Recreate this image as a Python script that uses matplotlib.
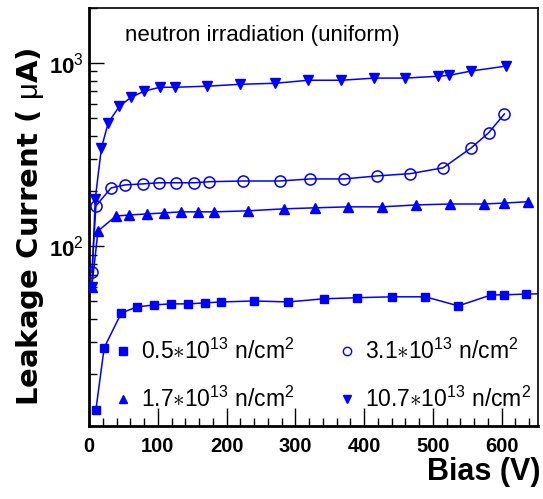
import matplotlib
matplotlib.use("Agg")
import matplotlib.pyplot as plt
from matplotlib.ticker import MultipleLocator, LogLocator, NullFormatter, FixedLocator

# ---- data ----
x_05 = [10, 22, 47, 70, 95, 119, 144, 169, 192, 240, 290, 341, 390, 440, 489, 537, 585, 603, 636, 670]
y_05 = [12.8, 27.9, 43.2, 46.6, 47.8, 48.4, 48.4, 49.0, 49.6, 50.2, 49.6, 51.6, 52.3, 52.9, 52.9, 47.2, 54.2, 54.2, 54.8, 55.0]

x_17 = [4, 13, 39, 58, 84, 109, 134, 159, 182, 231, 284, 329, 377, 426, 476, 525, 574, 604, 639]
y_17 = [60, 121, 146, 148, 150, 152, 154, 154, 154, 156, 160, 162, 164, 164, 168, 170, 170, 172, 175]

x_31 = [4, 10, 32, 52, 79, 102, 127, 153, 175, 224, 277, 322, 371, 419, 467, 515, 556, 581, 604]
y_31 = [72, 166, 208, 216, 219, 222, 222, 222, 225, 227, 227, 233, 233, 242, 249, 268, 345, 416, 528]

x_107 = [4, 9, 18, 28, 44, 61, 80, 103, 125, 172, 220, 271, 319, 367, 415, 460, 508, 524, 555, 606]
y_107 = [60, 181, 344, 473, 580, 650, 702, 738, 738, 748, 766, 776, 806, 806, 828, 828, 848, 858, 904, 963]

labels = [r"0.5$\ast$10$^{13}$ n/cm$^{2}$", r"3.1$\ast$10$^{13}$ n/cm$^{2}$",
          r"1.7$\ast$10$^{13}$ n/cm$^{2}$", r"10.7$\ast$10$^{13}$ n/cm$^{2}$"]
x_ticks = [0, 100, 200, 300, 400, 500, 600]

blue = (0, 0, 1)
sans = ["Liberation Sans", "DejaVu Sans"]
plt.rcParams['mathtext.fontset'] = 'custom'
plt.rcParams['mathtext.rm'] = 'Liberation Sans'
plt.rcParams['mathtext.it'] = 'Liberation Sans'
plt.rcParams['mathtext.bf'] = 'Liberation Sans:bold'

fig = plt.figure(figsize=(5.43, 4.99), dpi=100)
ax = fig.add_axes([0.164, 0.146, 0.827, 0.838])

ax.plot(x_05, y_05, color=blue, lw=1.1, marker='s', ms=6, mfc=blue, mec=blue, zorder=3)
ax.plot(x_17, y_17, color=blue, lw=1.1, marker='^', ms=7, mfc=blue, mec=blue, zorder=3)
ax.plot(x_31, y_31, color=blue, lw=1.1, marker='o', ms=8, mfc='none', mec=blue, mew=1.1, zorder=3)
ax.plot(x_107, y_107, color=blue, lw=1.1, marker='v', ms=7, mfc=blue, mec=blue, zorder=3)

ax.set_yscale('log')
ax.set_xlim(0, 653)
ax.set_ylim(10.4, 2000)

ax.xaxis.set_major_locator(FixedLocator(x_ticks))
ax.xaxis.set_minor_locator(MultipleLocator(20))
ax.set_xticklabels([str(t) for t in x_ticks])
ax.yaxis.set_major_locator(FixedLocator([100, 1000]))
ax.set_yticklabels([r"10$^{2}$", r"10$^{3}$"])
ax.yaxis.set_minor_locator(LogLocator(base=10, subs=range(2, 10)))
ax.yaxis.set_minor_formatter(NullFormatter())

ax.tick_params(which='both', direction='in', top=False, right=False, width=1.0, color='black')
ax.tick_params(which='major', length=11)
ax.tick_params(which='minor', length=6)
ax.tick_params(axis='x', which='major', length=13, pad=8)
ax.tick_params(axis='y', which='major', pad=4)
for lab in ax.get_xticklabels():
    lab.set_family(sans)
    lab.set_fontweight('bold')
    lab.set_fontsize(14.5)
for lab in ax.get_yticklabels():
    lab.set_family(sans)
    lab.set_fontweight('bold')
    lab.set_fontsize(16)

for sp in ax.spines.values():
    sp.set_linewidth(1.2)
ax.spines['left'].set_linewidth(2)
ax.spines['bottom'].set_linewidth(2)

ax.text(0.08, 0.935, "neutron irradiation (uniform)", transform=ax.transAxes,
        family=sans, fontsize=16, va='center', ha='left')

# legend
leg_items = [('s', blue, labels[0], 0.075, 0.18), ('o', 'none', labels[1], 0.575, 0.18),
             ('^', blue, labels[2], 0.075, 0.065), ('v', blue, labels[3], 0.575, 0.065)]
for mk, fc, lab, lx, ly in leg_items:
    ax.plot([lx], [ly], transform=ax.transAxes, marker=mk, ms=6,
            mfc=fc, mec=blue, mew=1.0, ls='none', clip_on=False)
    ax.text(lx + 0.04, ly, lab, transform=ax.transAxes, family=sans,
            fontsize=16.5, va='center', ha='left')

fig.text(0.056, 0.545, r"Leakage Current ( $\mu$A)", rotation=90, ha='center', va='center',
         family=["DejaVu Sans"], fontweight='heavy', fontsize=21)
fig.text(0.995, 0.055, "Bias (V)", ha='right', va='center', family=sans,
         fontweight='bold', fontsize=22)

fig.savefig("out.png", dpi=100)
